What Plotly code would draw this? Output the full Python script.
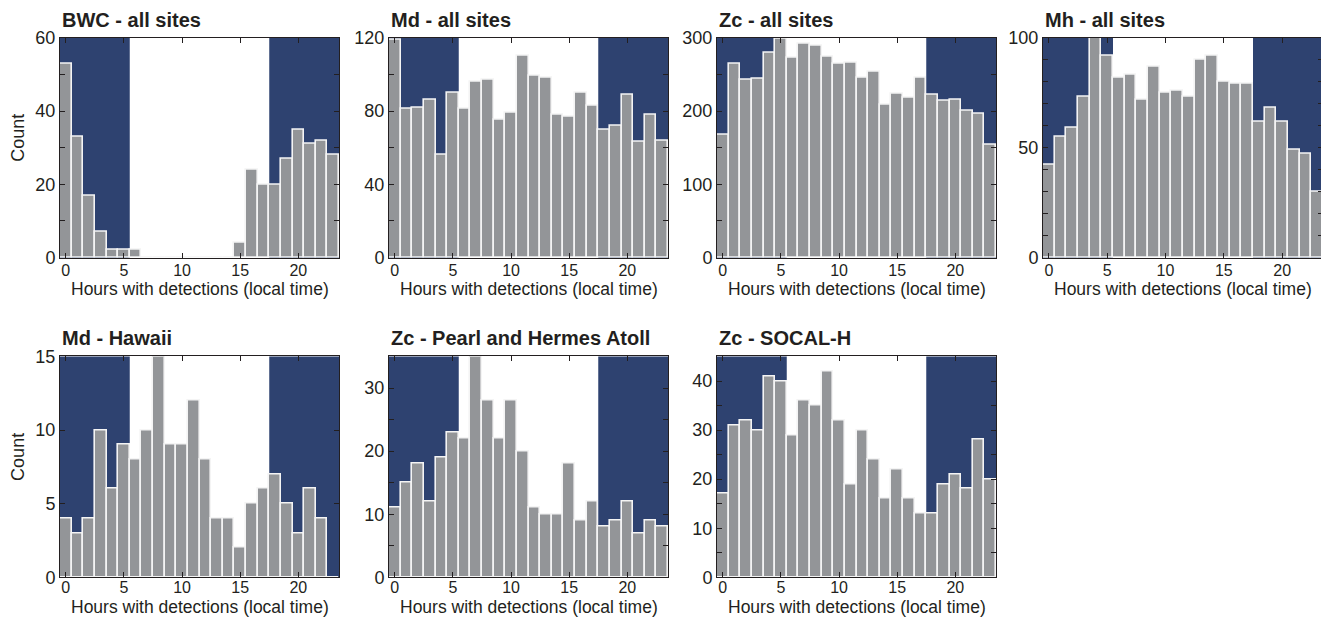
import plotly.graph_objects as go

hours = list(range(24))

titles = ["BWC - all sites", "Md - all sites", "Zc - all sites", "Mh - all sites",
          "Md - Hawaii", "Zc - Pearl and Hermes Atoll", "Zc - SOCAL-H"]

bwc_all = [53, 33, 17, 7, 2, 2, 2, 0, 0, 0, 0, 0, 0, 0, 0, 4, 24, 20, 20, 27, 35, 31, 32, 28]
md_all = [119, 81, 82, 86, 56, 90, 81, 96, 97, 75, 79, 110, 99, 98, 78, 77, 90, 83, 70, 72, 89, 63, 78, 64]
zc_all = [167, 264, 243, 244, 280, 298, 273, 292, 289, 274, 264, 266, 246, 253, 208, 224, 218, 246, 222, 214, 215, 201, 196, 154]
mh_all = [42, 55, 59, 73, 100, 92, 82, 83, 72, 87, 75, 76, 73, 90, 92, 80, 79, 79, 62, 68, 62, 49, 47, 30]
md_hawaii = [4, 3, 4, 10, 6, 9, 8, 10, 15, 9, 9, 12, 8, 4, 4, 2, 5, 6, 7, 5, 3, 6, 4, 0]
zc_pha = [11, 15, 18, 12, 19, 23, 22, 35, 28, 22, 28, 20, 11, 10, 10, 18, 9, 12, 8, 9, 12, 7, 9, 8]
zc_socal = [17, 31, 32, 30, 41, 40, 29, 36, 35, 42, 32, 19, 30, 24, 16, 22, 16, 13, 13, 19, 21, 18, 28, 20]

series = [bwc_all, md_all, zc_all, mh_all, md_hawaii, zc_pha, zc_socal]

y_max = [60, 120, 300, 100, 15, 35, 45]
y_minor = [10, 20, 50, 10, 5, 5, 5]
y_label_step = [20, 40, 100, 50, 5, 10, 10]

x_ticks = [0, 5, 10, 15, 20]
night_spans = [(-0.5, 5.5), (17.5, 23.5)]

W, H = 1329, 617
# target pixel positions (as seen in the final picture)
col_px = [(60, 339), (389, 668), (717, 996), (1043, 1323)]
row_px = [(37, 257), (356, 577)]
xtitle_gap = [31, 30]
xtick_standoff = [-2, -4]

# calibration between layout pixels and the photographed page
X_OFF = 8.0
Y_OFF, Y_SC = 17.2, 0.9685


def px_x(x):
    return (x - X_OFF) / W


def px_y(y):
    return 1 - ((y - Y_OFF) / Y_SC) / H


NAVY = "#2e4270"
GRAY = "#939598"
AXC = "#231f20"
FONT = "Liberation Sans, Arial, sans-serif"

fig = go.Figure()
annotations = []
shapes = []

for i, (title, vals) in enumerate(zip(titles, series)):
    r, c = divmod(i, 4)
    x0, x1 = col_px[c]
    y0, y1 = row_px[r]
    xd = [px_x(x0), px_x(x1)]
    yd = [px_y(y1), px_y(y0)]
    n = i + 1
    xa = "x" if n == 1 else f"x{n}"
    ya = "y" if n == 1 else f"y{n}"
    xkey = "xaxis" if n == 1 else f"xaxis{n}"
    ykey = "yaxis" if n == 1 else f"yaxis{n}"

    fig.add_trace(go.Bar(
        x=hours, y=vals, width=1.0, xaxis=xa, yaxis=ya,
        marker=dict(color=GRAY, line=dict(color="#f4f4f4", width=1.6)),
        showlegend=False,
    ))

    yt = list(range(0, y_max[i] + 1, y_minor[i]))
    ytt = [str(v) if v % y_label_step[i] == 0 else "" for v in yt]

    fig.layout[xkey] = dict(
        domain=xd, anchor=ya, range=[-0.5, 23.5],
        tickvals=x_ticks, ticktext=[str(v) for v in x_ticks],
        ticks="inside", ticklen=5, tickcolor=AXC, tickwidth=1,
        showline=True, linecolor=AXC, linewidth=1, mirror="ticks",
        showgrid=False, zeroline=False, ticklabelstandoff=xtick_standoff[r],
        tickfont=dict(family=FONT, size=16, color=AXC),
    )
    fig.layout[ykey] = dict(
        domain=yd, anchor=xa, range=[0, y_max[i]],
        tickvals=yt, ticktext=ytt,
        ticks="inside", ticklen=5, tickcolor=AXC, tickwidth=1,
        showline=True, linecolor=AXC, linewidth=1, mirror="ticks",
        showgrid=False, zeroline=False,
        tickfont=dict(family=FONT, size=18, color=AXC),
    )

    for (s, e) in night_spans:
        shapes.append(dict(type="rect", xref=xa, yref=f"{ya} domain",
                           x0=s, x1=e, y0=0, y1=1, fillcolor=NAVY,
                           line=dict(width=0), layer="below"))

    # title
    annotations.append(dict(
        text=f"<b>{title}</b>", xref="paper", yref="paper",
        x=px_x(x0), y=px_y(y0 - 18), xanchor="left", yanchor="middle",
        showarrow=False, font=dict(family=FONT, size=20, color=AXC),
    ))
    # x label
    annotations.append(dict(
        text="Hours with detections (local time)", xref="paper", yref="paper",
        x=px_x((x0 + x1) / 2), y=px_y(y1 + xtitle_gap[r]), xanchor="center", yanchor="middle",
        showarrow=False, font=dict(family=FONT, size=17.5, color=AXC),
    ))
    if c == 0:
        annotations.append(dict(
            text="Count", xref="paper", yref="paper", textangle=-90,
            x=px_x(18), y=px_y((y0 + y1) / 2 - 10), xanchor="center", yanchor="middle",
            showarrow=False, font=dict(family=FONT, size=18, color=AXC),
        ))

fig.update_layout(
    width=W, height=H, margin=dict(l=0, r=0, t=0, b=0),
    paper_bgcolor="white", plot_bgcolor="white",
    bargap=0, annotations=annotations, shapes=shapes,
    font=dict(family=FONT, color=AXC),
)

fig.write_html("out.html")
